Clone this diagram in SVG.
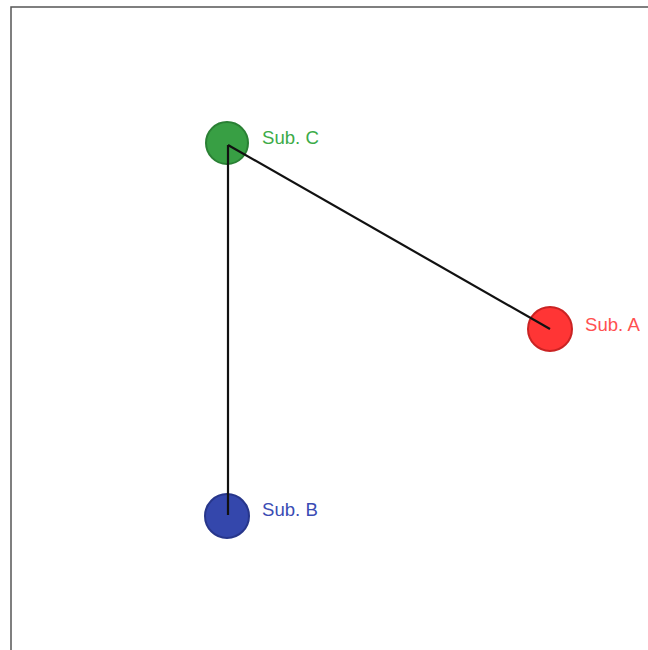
<svg xmlns="http://www.w3.org/2000/svg" width="648" height="650" viewBox="0 0 648 650">
  <style>
    .node circle { stroke-width: 2; opacity: 0.95; }
    .label { font-family: "Liberation Sans", Arial, sans-serif; font-size: 18.6px; }
    .edge { stroke: #111; stroke-width: 2.2; fill: none; }
  </style>
  <rect width="648" height="650" fill="#fff"/>
  <!-- frame: top and left edges -->
  <path d="M11 700 V7 H700" fill="none" stroke="#555" stroke-width="1.5"/>

  <g id="node-c" class="node">
    <circle cx="227" cy="143" r="21" fill="#2e9a3a" stroke="#1f7a2a"/>
    <text class="label" x="262" y="144" fill="#3cab48">Sub. C</text>
  </g>
  <g id="node-a" class="node">
    <circle cx="550" cy="329" r="22" fill="#ff2b2b" stroke="#c81818"/>
    <text class="label" x="585" y="331" fill="#ff5050">Sub. A</text>
  </g>
  <g id="node-b" class="node">
    <circle cx="227" cy="516" r="22" fill="#2a3ea8" stroke="#1c2c85"/>
    <text class="label" x="262" y="516" fill="#3a4cb4">Sub. B</text>
  </g>

  <g id="connectors">
    <path class="edge" d="M228 145 L550 329"/>
    <path class="edge" d="M228 145 L228 515"/>
  </g>
</svg>
